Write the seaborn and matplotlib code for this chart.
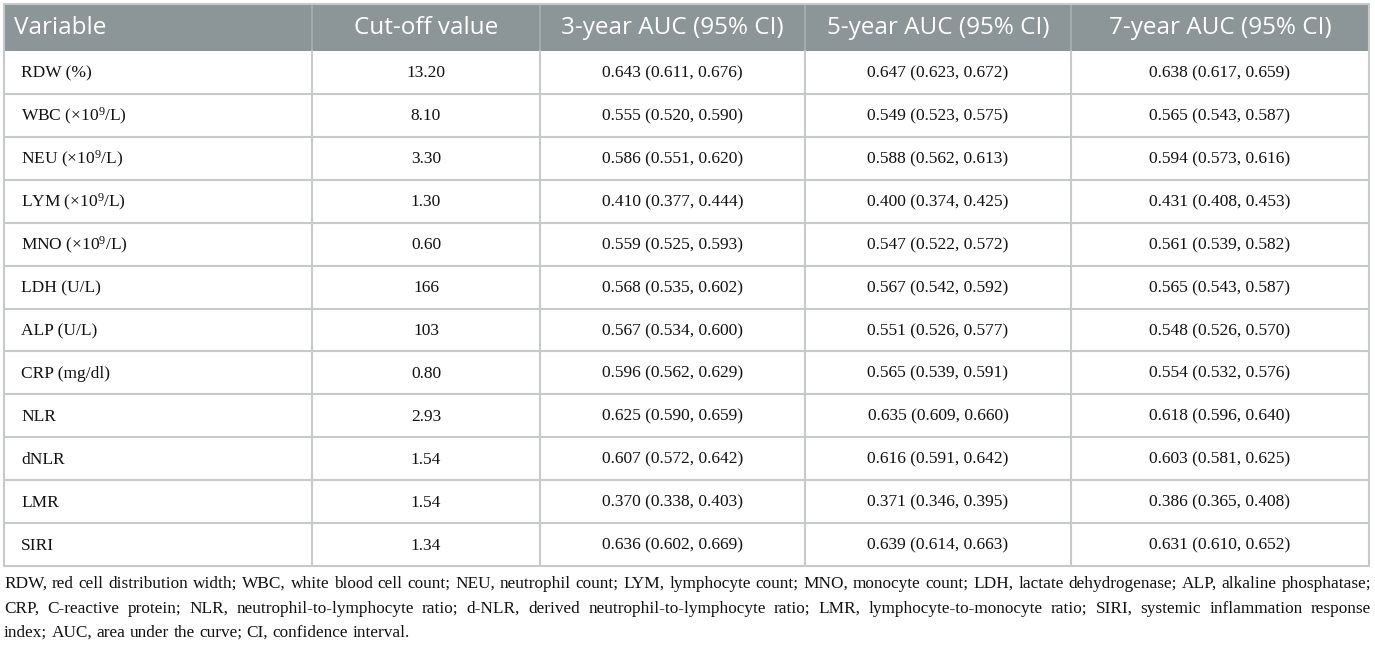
import numpy as np
import pandas as pd
import matplotlib.pyplot as plt
import seaborn as sns

sns.set_theme(style='white')
plt.rcParams['mathtext.fontset'] = 'custom'
plt.rcParams['mathtext.rm'] = 'Liberation Serif'
plt.rcParams['mathtext.it'] = 'Liberation Serif:italic'

headers = ['Variable', 'Cut-off value', '3-year AUC (95% CI)',
           '5-year AUC (95% CI)', '7-year AUC (95% CI)']
variables = ['RDW (%)', r'WBC (×10$^{9}$/L)', r'NEU (×10$^{9}$/L)', r'LYM (×10$^{9}$/L)',
             r'MNO (×10$^{9}$/L)', 'LDH (U/L)', 'ALP (U/L)', 'CRP (mg/dl)',
             'NLR', 'dNLR', 'LMR', 'SIRI']
cutoffs = ['13.20', '8.10', '3.30', '1.30', '0.60', '166', '103', '0.80',
           '2.93', '1.54', '1.54', '1.34']
auc3 = ['0.643 (0.611, 0.676)', '0.555 (0.520, 0.590)', '0.586 (0.551, 0.620)',
        '0.410 (0.377, 0.444)', '0.559 (0.525, 0.593)', '0.568 (0.535, 0.602)',
        '0.567 (0.534, 0.600)', '0.596 (0.562, 0.629)', '0.625 (0.590, 0.659)',
        '0.607 (0.572, 0.642)', '0.370 (0.338, 0.403)', '0.636 (0.602, 0.669)']
auc5 = ['0.647 (0.623, 0.672)', '0.549 (0.523, 0.575)', '0.588 (0.562, 0.613)',
        '0.400 (0.374, 0.425)', '0.547 (0.522, 0.572)', '0.567 (0.542, 0.592)',
        '0.551 (0.526, 0.577)', '0.565 (0.539, 0.591)', '0.635 (0.609, 0.660)',
        '0.616 (0.591, 0.642)', '0.371 (0.346, 0.395)', '0.639 (0.614, 0.663)']
auc7 = ['0.638 (0.617, 0.659)', '0.565 (0.543, 0.587)', '0.594 (0.573, 0.616)',
        '0.431 (0.408, 0.453)', '0.561 (0.539, 0.582)', '0.565 (0.543, 0.587)',
        '0.548 (0.526, 0.570)', '0.554 (0.532, 0.576)', '0.618 (0.596, 0.640)',
        '0.603 (0.581, 0.625)', '0.386 (0.365, 0.408)', '0.631 (0.610, 0.652)']
footnote = [
    'RDW, red cell distribution width; WBC, white blood cell count; NEU, neutrophil count; '
    'LYM, lymphocyte count; MNO, monocyte count; LDH, lactate dehydrogenase; ALP, alkaline phosphatase;',
    'CRP, C-reactive protein; NLR, neutrophil-to-lymphocyte ratio; d-NLR, derived '
    'neutrophil-to-lymphocyte ratio; LMR, lymphocyte-to-monocyte ratio; SIRI, systemic inflammation response',
    'index; AUC, area under the curve; CI, confidence interval.',
]

df = pd.DataFrame({headers[0]: variables, headers[1]: cutoffs, headers[2]: auc3,
                   headers[3]: auc5, headers[4]: auc7})

# layout in pixels
col_edges = [4, 312, 540, 805, 1071, 1369]
top, head_bot, bot = 4, 51, 566
row_h = (bot - head_bot) / len(df)
head_col = '#8c9597'
line_col = '#c6caca'
txt_col = '#111111'

fig = plt.figure(figsize=(13.75, 6.48), dpi=100)
ax = fig.add_axes([0, 0, 1, 1])
ax.set_xlim(0, 1375)
ax.set_ylim(648, 0)
ax.axis('off')

# header
ax.add_patch(plt.Rectangle((col_edges[0], top), col_edges[-1] - col_edges[0], head_bot - top,
                           facecolor=head_col, edgecolor='none'))
for j, h in enumerate(headers):
    yc = (top + head_bot) / 2 + 1
    if j == 0:
        ax.text(col_edges[0] + 10, yc, h, ha='left', va='center', color='white',
                family='Open Sans', fontsize=17.5)
    else:
        ax.text((col_edges[j] + col_edges[j + 1]) / 2, yc, h, ha='center', va='center',
                color='white', family='Open Sans', fontsize=17.5)
for x in col_edges[1:-1]:
    ax.plot([x, x], [top, head_bot], color='#a3aaac', lw=1.5)

# body
for i, row in enumerate(df.itertuples(index=False)):
    yc = head_bot + (i + 0.5) * row_h + 1
    for j, val in enumerate(row):
        if j == 0:
            ax.text(col_edges[0] + 17, yc, val, ha='left', va='center',
                    family='Liberation Serif', fontsize=12.5, color=txt_col)
        else:
            ax.text((col_edges[j] + col_edges[j + 1]) / 2, yc, val, ha='center', va='center',
                    family='Liberation Serif', fontsize=12.5, color=txt_col)

for i in range(1, len(df) + 1):
    y = head_bot + i * row_h
    ax.plot([col_edges[0], col_edges[-1]], [y, y], color=line_col, lw=1.5)
for x in col_edges:
    ax.plot([x, x], [head_bot, bot], color=line_col, lw=1.5)
ax.plot([col_edges[0], col_edges[0]], [top, head_bot], color=line_col, lw=1.5)
ax.plot([col_edges[-1], col_edges[-1]], [top, head_bot], color=line_col, lw=1.5)
ax.plot([col_edges[0], col_edges[-1]], [top, top], color=line_col, lw=1.5)

# justified footnote, font sized so the first line nearly fills the width
fig.canvas.draw()
renderer = fig.canvas.get_renderer()
left, right = 4, 1371
probe = ax.text(0, 0, footnote[0], family='Liberation Serif', fontsize=10)
fs = 10 * (right - left - 12) / probe.get_window_extent(renderer).width
probe.remove()
foot_y = [584, 609, 633]
for k, line in enumerate(footnote):
    words = line.split(' ')
    objs = [ax.text(0, foot_y[k], w, ha='left', va='center', family='Liberation Serif',
                    fontsize=fs, color=txt_col) for w in words]
    widths = [o.get_window_extent(renderer).width for o in objs]
    if k < len(footnote) - 1:
        gap = (right - left - sum(widths)) / (len(words) - 1)
    else:
        sp = ax.text(0, 0, 'a a', family='Liberation Serif', fontsize=fs)
        aa = ax.text(0, 0, 'aa', family='Liberation Serif', fontsize=fs)
        gap = sp.get_window_extent(renderer).width - aa.get_window_extent(renderer).width
        sp.remove()
        aa.remove()
    x = left
    for o, w in zip(objs, widths):
        o.set_x(x)
        x += w + gap

fig.savefig('out.png', dpi=100)
